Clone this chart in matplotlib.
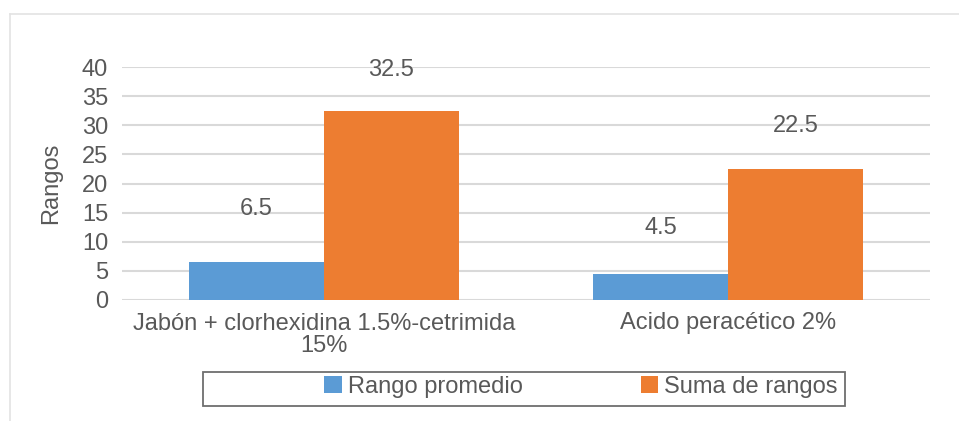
import matplotlib
matplotlib.use("Agg")
import matplotlib.pyplot as plt
from matplotlib.patches import Rectangle, Patch
from matplotlib.lines import Line2D
import numpy as np

categories = ["Jabón + clorhexidina 1.5%-cetrimida\n15%", "Acido peracético 2%"]
rango_promedio = [6.5, 4.5]
suma_rangos = [32.5, 22.5]
series_names = ["Rango promedio", "Suma de rangos"]
y_ticks = [0, 5, 10, 15, 20, 25, 30, 35, 40]

BLUE = "#5B9BD5"
ORANGE = "#ED7D31"
TEXT = "#595959"
GRID = "#D9D9D9"

plt.rcParams["font.family"] = ["Liberation Sans", "DejaVu Sans"]
FS = 17

W, H = 959, 421
fig = plt.figure(figsize=(W / 100, H / 100), dpi=100)
fig.patch.set_facecolor("white")

def fx(px):
    return px / W

def fy(py):
    return 1 - py / H

ax = fig.add_axes([fx(122), fy(300), fx(930) - fx(122), fy(67) - fy(300)])

x = np.arange(len(categories))
bw = 1 / 3
b1 = ax.bar(x - bw / 2, rango_promedio, bw, color=BLUE, zorder=2)
b2 = ax.bar(x + bw / 2, suma_rangos, bw, color=ORANGE, zorder=2)

ax.set_xlim(-0.5, len(categories) - 0.5)
ax.set_ylim(0, 40)
ax.set_yticks(y_ticks)
ax.set_xticks(x)
ax.set_xticklabels(categories, fontsize=FS, color=TEXT, linespacing=1.0)
ax.tick_params(axis="both", length=0, labelsize=FS, labelcolor=TEXT)
ax.tick_params(axis="y", pad=10)
ax.tick_params(axis="x", pad=9)
ax.yaxis.grid(True, color=GRID, linewidth=1.5, zorder=0)
ax.set_axisbelow(True)
for s in ax.spines.values():
    s.set_visible(False)

ax.set_ylabel("Rangos", fontsize=FS, color=TEXT, labelpad=14)

# value labels above each bar (offsets in points)
label_offsets = {0: [38, 33], 1: [29, 31]}
for si, bars in enumerate([b1, b2]):
    for i, rect in enumerate(bars):
        v = rect.get_height()
        ax.annotate(f"{v:g}", (rect.get_x() + rect.get_width() / 2, v),
                    xytext=(0, label_offsets[si][i]), textcoords="offset points",
                    ha="center", va="center", fontsize=FS, color=TEXT)

# outer chart frame (top and left edges)
fig.add_artist(Line2D([fx(10), 1], [fy(14), fy(14)], color="#E3E3E3", linewidth=1.2))
fig.add_artist(Line2D([fx(10), fx(10)], [fy(14), 0], color="#E3E3E3", linewidth=1.2))

# legend box
fig.add_artist(Rectangle((fx(203), fy(406)), fx(845) - fx(203), fy(372) - fy(406),
                         transform=fig.transFigure, fill=False,
                         edgecolor="#6E6E6E", linewidth=1.3))
handles = [Patch(facecolor=BLUE, edgecolor="none"), Patch(facecolor=ORANGE, edgecolor="none")]
leg = fig.legend(handles, series_names, ncol=2, frameon=False,
                 loc="center left", bbox_to_anchor=(fx(324), fy(387)),
                 borderpad=0, borderaxespad=0, fontsize=FS,
                 handlelength=0.75, handleheight=0.75, handletextpad=0.25,
                 columnspacing=5.0, labelcolor=TEXT)

fig.savefig("out.png", dpi=100, facecolor="white")
